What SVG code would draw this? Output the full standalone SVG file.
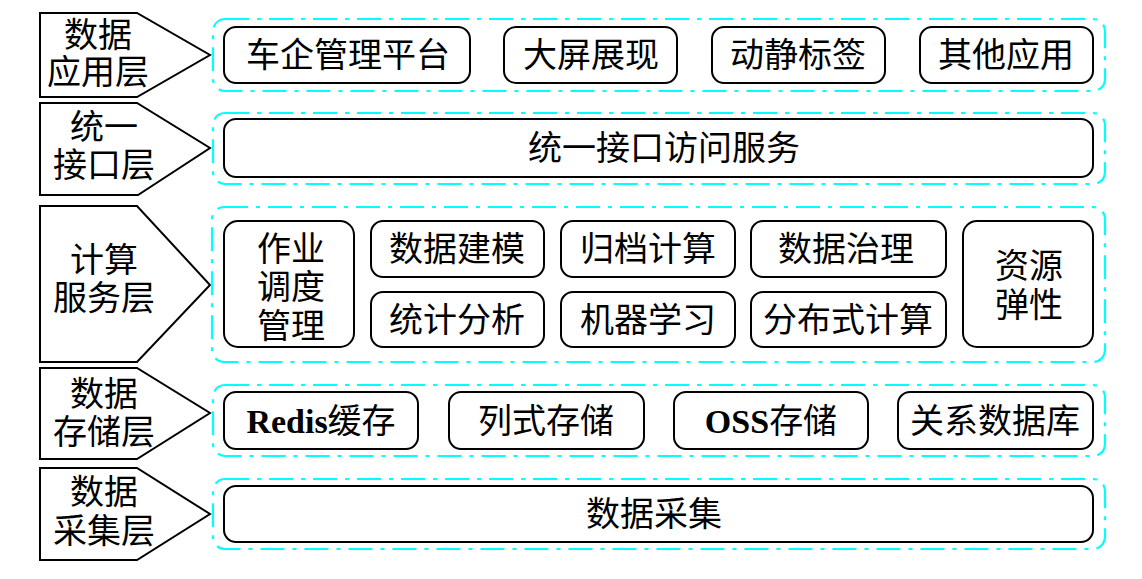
<svg xmlns="http://www.w3.org/2000/svg" width="1142" height="579" viewBox="0 0 1142 579">
<style>
  .lbl{fill:#fff;stroke:#000;stroke-width:2;stroke-linejoin:miter}
  .grp{fill:none;stroke:#00FFFF;stroke-width:2.2;stroke-dasharray:24 8 4 8}
  .box{fill:#fff;stroke:#000;stroke-width:2}
  text{font-family:"Liberation Serif","Noto Sans CJK SC",serif;font-size:34px;fill:#000;text-anchor:middle;dominant-baseline:central}
  .b{font-weight:bold}
</style>
<rect width="1142" height="579" fill="#fff"/>

<g id="layer-app">
  <polygon class="lbl" points="40,13 137,13 210,55 137,97 40,97"/>
  <text x="98" y="35">数据</text>
  <text x="98" y="72">应用层</text>
</g>
<g id="layer-api">
  <polygon class="lbl" points="40,103 137,103 210,148 138,195 40,195"/>
  <text x="104" y="127">统一</text>
  <text x="104" y="165">接口层</text>
</g>
<g id="layer-compute">
  <polygon class="lbl" points="40,206 137,206 210,285 137,362 40,362"/>
  <text x="104" y="260">计算</text>
  <text x="104" y="298">服务层</text>
</g>
<g id="layer-storage">
  <polygon class="lbl" points="40,368 137,368 210,413 137,459 40,459"/>
  <text x="104" y="394">数据</text>
  <text x="104" y="432">存储层</text>
</g>
<g id="layer-collect">
  <polygon class="lbl" points="40,468 137,468 210,514 137,560 40,560"/>
  <text x="104" y="492">数据</text>
  <text x="104" y="531">采集层</text>
</g>

<g id="containers">
  <rect class="grp" x="213" y="19" width="892" height="72" rx="12"/>
  <rect class="grp" x="213" y="113" width="892" height="71" rx="12"/>
  <rect class="grp" x="212" y="207" width="893" height="155" rx="12"/>
  <rect class="grp" x="213" y="385" width="892" height="71" rx="12"/>
  <rect class="grp" x="213" y="479" width="892" height="70" rx="12"/>
</g>

<g id="n-chexi">
  <rect class="box" x="224" y="27" width="246" height="56" rx="12"/>
  <text x="348" y="55">车企管理平台</text>
</g>
<g id="n-daping">
  <rect class="box" x="504" y="27" width="173" height="56" rx="12"/>
  <text x="591" y="55">大屏展现</text>
</g>
<g id="n-dongjing">
  <rect class="box" x="712" y="27" width="173" height="56" rx="12"/>
  <text x="798" y="55">动静标签</text>
</g>
<g id="n-qita">
  <rect class="box" x="920" y="27" width="173" height="56" rx="12"/>
  <text x="1006" y="55">其他应用</text>
</g>

<g id="n-api">
  <rect class="box" x="224" y="119" width="869" height="58" rx="12"/>
  <text x="664" y="148">统一接口访问服务</text>
</g>

<g id="n-zuoye">
  <rect class="box" x="224" y="221" width="130" height="126" rx="14"/>
  <text x="291" y="249">作业</text>
  <text x="291" y="287">调度</text>
  <text x="291" y="326">管理</text>
</g>
<g id="n-jianmo">
  <rect class="box" x="371" y="221" width="173" height="56" rx="12"/>
  <text x="457" y="249">数据建模</text>
</g>
<g id="n-tongji">
  <rect class="box" x="371" y="292" width="173" height="55" rx="12"/>
  <text x="457" y="320">统计分析</text>
</g>
<g id="n-guidang">
  <rect class="box" x="561" y="221" width="174" height="56" rx="12"/>
  <text x="648" y="249">归档计算</text>
</g>
<g id="n-jiqi">
  <rect class="box" x="561" y="292" width="174" height="55" rx="12"/>
  <text x="648" y="320">机器学习</text>
</g>
<g id="n-zhili">
  <rect class="box" x="751" y="221" width="195" height="56" rx="12"/>
  <text x="846" y="249">数据治理</text>
</g>
<g id="n-fenbu">
  <rect class="box" x="751" y="292" width="195" height="55" rx="12"/>
  <text x="848" y="320">分布式计算</text>
</g>
<g id="n-ziyuan">
  <rect class="box" x="963" y="221" width="130" height="126" rx="14"/>
  <text x="1029" y="266">资源</text>
  <text x="1029" y="305">弹性</text>
</g>

<g id="n-redis">
  <rect class="box" x="224" y="392" width="194" height="57" rx="12"/>
  <text x="321" y="421"><tspan class="b">Redis</tspan>缓存</text>
</g>
<g id="n-lieshi">
  <rect class="box" x="449" y="392" width="195" height="57" rx="12"/>
  <text x="546" y="421">列式存储</text>
</g>
<g id="n-oss">
  <rect class="box" x="674" y="392" width="194" height="57" rx="12"/>
  <text x="771" y="421"><tspan class="b">OSS</tspan>存储</text>
</g>
<g id="n-guanxi">
  <rect class="box" x="898" y="392" width="195" height="57" rx="12"/>
  <text x="995" y="421">关系数据库</text>
</g>

<g id="n-caiji">
  <rect class="box" x="224" y="486" width="869" height="56" rx="12"/>
  <text x="654" y="514">数据采集</text>
</g>

<g id="connectors"></g>
</svg>
